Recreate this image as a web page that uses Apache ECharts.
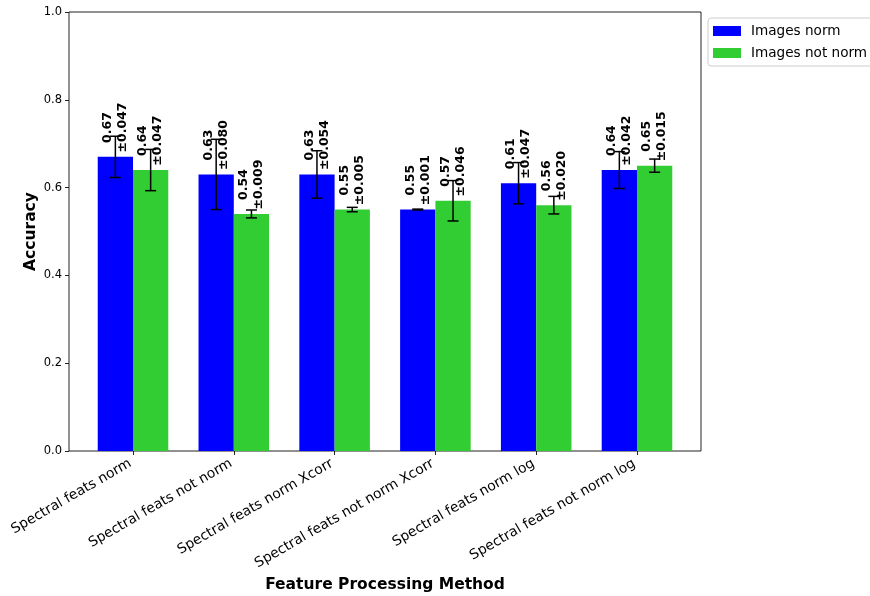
<!DOCTYPE html>
<html>
<head>
<meta charset="utf-8">
<script src="https://cdn.jsdelivr.net/npm/echarts@6/dist/echarts.min.js"></script>
<style>
  html, body { margin: 0; padding: 0; background: #fff; }
  #chart { width: 870px; height: 596px; }
</style>
</head>
<body>
<div id="chart"></div>
<script>
// Feature processing methods on the x axis
const categories = [
  'Spectral feats norm',
  'Spectral feats not norm',
  'Spectral feats norm Xcorr',
  'Spectral feats not norm Xcorr',
  'Spectral feats norm log',
  'Spectral feats not norm log'
];
// Mean accuracy and standard deviation per method
const normMeans = [0.67, 0.63, 0.63, 0.55, 0.61, 0.64];
const normErrs = [0.047, 0.080, 0.054, 0.001, 0.047, 0.042];
const notNormMeans = [0.64, 0.54, 0.55, 0.57, 0.56, 0.65];
const notNormErrs = [0.047, 0.009, 0.005, 0.046, 0.020, 0.015];
// Y axis range and tick step
const yMin = 0.0, yMax = 1.0, yStep = 0.2;

const FONT = '"DejaVu Sans", "Liberation Sans", sans-serif';
const BAR_W = 0.35;
const LABEL_SIZE = 12.5;
const CAP = 5.5;

const measureCtx = document.createElement('canvas').getContext('2d');
function textWidth(s) {
  measureCtx.font = 'bold ' + LABEL_SIZE + 'px ' + FONT;
  return measureCtx.measureText(s).width;
}

// Bar + error bar + rotated two-line value label for one group
function makeRender(leftOffset, color) {
  return function (params, api) {
    const i = api.value(0), v = api.value(1), e = api.value(2);
    const x0 = i + leftOffset, x1 = x0 + BAR_W;
    const tl = api.coord([x0, v]);
    const br = api.coord([x1, 0]);
    const cx = api.coord([x0 + BAR_W / 2, 0])[0];
    const yTop = api.coord([0, v + e])[1];
    const yBot = api.coord([0, v - e])[1];
    const yLab = api.coord([0, v + 0.01])[1];
    const l1 = v.toFixed(2), l2 = '\u00b1' + e.toFixed(3);
    const L = Math.max(textWidth(l1), textWidth(l2));
    const err = { stroke: '#000', lineWidth: 1.5 };
    return {
      type: 'group',
      children: [
        { type: 'rect', shape: { x: tl[0], y: tl[1], width: br[0] - tl[0], height: br[1] - tl[1] }, style: { fill: color } },
        { type: 'line', shape: { x1: cx, y1: yTop, x2: cx, y2: yBot }, style: err },
        { type: 'line', shape: { x1: cx - CAP, y1: yTop, x2: cx + CAP, y2: yTop }, style: err },
        { type: 'line', shape: { x1: cx - CAP, y1: yBot, x2: cx + CAP, y2: yBot }, style: err },
        {
          type: 'text', x: cx, y: yLab - L / 2, rotation: Math.PI / 2,
          style: {
            text: l1 + '\n' + l2, fill: '#000', fontSize: LABEL_SIZE, fontWeight: 'bold',
            fontFamily: FONT, align: 'center', verticalAlign: 'middle', lineHeight: 15
          }
        }
      ]
    };
  };
}

const chart = echarts.init(document.getElementById('chart'), null, { renderer: 'canvas' });
chart.setOption({
  animation: false,
  backgroundColor: '#fff',
  textStyle: { fontFamily: FONT },
  grid: {
    left: 69, right: 169, top: 12, bottom: 145,
    outerBoundsMode: 'none', containLabel: false,
    show: true, borderColor: '#222', borderWidth: 1, backgroundColor: 'transparent'
  },
  legend: {
    left: 708, top: 18, orient: 'vertical',
    icon: 'rect', itemWidth: 28, itemHeight: 10, itemGap: 6,
    padding: [5, 6, 5, 5],
    borderColor: '#ccc', borderWidth: 1, borderRadius: 3, backgroundColor: '#fff',
    textStyle: { fontSize: 13.6, color: '#000', fontFamily: FONT, padding: [0, 0, 0, 5], lineHeight: 16 },
    data: ['Images norm', 'Images not norm']
  },
  xAxis: {
    type: 'value', min: -0.635, max: 5.635,
    name: 'Feature Processing Method', nameLocation: 'middle', nameGap: 123,
    nameTextStyle: { fontSize: 15.5, fontWeight: 'bold', color: '#000', fontFamily: FONT },
    axisLine: { show: false, onZero: false },
    splitLine: { show: false },
    axisTick: { show: true, inside: false, length: 4, customValues: categories.map((c, i) => i), lineStyle: { color: '#222' } },
    axisLabel: {
      customValues: categories.map((c, i) => i),
      formatter: v => categories[Math.round(v)] || '',
      rotate: 30, margin: 10, padding: [0, 3, 0, 0], fontSize: 13.8, color: '#000', fontFamily: FONT
    }
  },
  yAxis: {
    type: 'value', min: yMin, max: yMax, interval: yStep,
    name: 'Accuracy', nameLocation: 'middle', nameGap: 30, nameMoveOverlap: false,
    nameTextStyle: { fontSize: 15.5, fontWeight: 'bold', color: '#000', fontFamily: FONT },
    axisLine: { show: false, onZero: false },
    splitLine: { show: false },
    axisTick: { show: true, inside: false, length: 4, lineStyle: { color: '#222' } },
    axisLabel: {
      formatter: v => v.toFixed(1), margin: 7, fontSize: 11.5, color: '#000', fontFamily: FONT
    }
  },
  series: [
    {
      name: 'Images norm', type: 'custom',
      itemStyle: { color: '#0000ff' },
      encode: { x: 0, y: 1 },
      data: normMeans.map((v, i) => [i, v, normErrs[i]]),
      renderItem: makeRender(-BAR_W, '#0000ff')
    },
    {
      name: 'Images not norm', type: 'custom',
      itemStyle: { color: '#32cd32' },
      encode: { x: 0, y: 1 },
      data: notNormMeans.map((v, i) => [i, v, notNormErrs[i]]),
      renderItem: makeRender(0, '#32cd32')
    }
  ]
});
</script>
</body>
</html>
